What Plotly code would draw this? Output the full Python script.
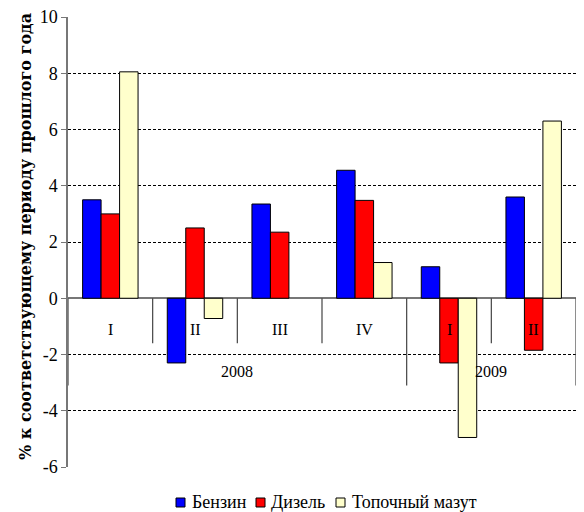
import plotly.graph_objects as go

quarters = ["I", "II", "III", "IV", "I", "II"]
years = ["2008", "2009"]
year_spans = [(0, 3), (4, 5)]  # category index ranges for each year
series_names = ["Бензин", "Дизель", "Топочный мазут"]
benzin = [3.5, -2.3, 3.35, 4.55, 1.12, 3.6]
dizel = [3.0, 2.5, 2.35, 3.48, -2.3, -1.85]
mazut = [8.05, -0.72, None, 1.27, -4.95, 6.3]
colors = ["#0000FF", "#FF0000", "#FFFFCC"]
ytick_vals = [-6, -4, -2, 0, 2, 4, 6, 8, 10]
ytick_text = ["-6", "-4", "-2", "0", "2", "4", "6", "8", "10"]
ytitle = "% к соответствующему периоду прошлого года"

FONT = "Liberation Serif"
W, H = 568, 504
ML, MR, MT, MB = 60, 0, 9, 45
OFF = 8  # page body offset
PW, PH = W - ML - MR, H - MT - MB


def px2paper_x(wx):
    return (wx - OFF - ML) / PW


def px2paper_y(wy):
    return (H - MB - (wy - OFF)) / PH


xs = list(range(len(quarters)))

fig = go.Figure()
for name, vals, col in zip(series_names, [benzin, dizel, mazut], colors):
    fig.add_trace(go.Bar(
        x=xs, y=vals, name=name, showlegend=False,
        marker=dict(color=col, line=dict(color="black", width=1)),
    ))

# quarter labels
for i, q in enumerate(quarters):
    fig.add_annotation(x=i, y=-1.1, text=q, showarrow=False,
                       font=dict(family=FONT, size=16, color="black"))
# year labels
for (a, b), yr in zip(year_spans, years):
    fig.add_annotation(x=(a + b) / 2, y=-2.6, text=yr, showarrow=False,
                       font=dict(family=FONT, size=16, color="black"))

# y title
fig.add_annotation(xref="paper", yref="paper", x=px2paper_x(25), y=px2paper_y(237),
                   xanchor="center", yanchor="middle", text="<b>" + ytitle + "</b>",
                   textangle=-90, showarrow=False,
                   font=dict(family="DejaVu Serif", size=16, color="black"))

# separators
year_edges = [year_spans[0][0] - 0.5] + [b + 0.5 for a, b in year_spans]
for xe in year_edges:
    fig.add_shape(type="line", x0=xe, x1=xe, y0=0, y1=-3.1,
                  line=dict(color="#444444", width=1.2), layer="above")
for i in range(len(quarters) - 1):
    xe = i + 0.5
    if xe in year_edges:
        continue
    fig.add_shape(type="line", x0=xe, x1=xe, y0=0, y1=-1.6,
                  line=dict(color="#444444", width=1.2), layer="above")

# legend (compact, like the original)
sq_left = [176, 256, 336]
txt_left = [190, 269, 350]
leg_y = 502.5
for name, col, sx, tx in zip(series_names, colors, sq_left, txt_left):
    fig.add_shape(type="rect", xref="paper", yref="paper",
                  x0=px2paper_x(sx), x1=px2paper_x(sx + 9),
                  y0=px2paper_y(leg_y - 4.5), y1=px2paper_y(leg_y + 4.5),
                  fillcolor=col, line=dict(color="black", width=1))
    fig.add_annotation(xref="paper", yref="paper", x=px2paper_x(tx), y=px2paper_y(leg_y),
                       xanchor="left", yanchor="middle", text=name, showarrow=False,
                       font=dict(family=FONT, size=18, color="black"))

fig.update_layout(
    width=W, height=H,
    margin=dict(l=ML, r=MR, t=MT, b=MB),
    paper_bgcolor="white", plot_bgcolor="white",
    barmode="group", bargap=0.345, bargroupgap=0,
    font=dict(family=FONT, size=16, color="black"),
    showlegend=False,
    xaxis=dict(range=[-0.5, 5.5], showticklabels=False, showgrid=False,
               zeroline=False, showline=False, ticks="", automargin=False),
    yaxis=dict(range=[-6, 10], tickvals=ytick_vals, ticktext=ytick_text,
               showgrid=True, gridcolor="black", griddash="3px,2px", gridwidth=1,
               zeroline=True, zerolinecolor="#777777", zerolinewidth=1.5,
               showline=True, linecolor="#777777", linewidth=1.5,
               ticks="outside", ticklen=5, tickcolor="#777777", automargin=False,
               ticklabeloverflow="allow",
               tickfont=dict(family=FONT, size=18, color="black")),
)

fig.write_html("out.html")
